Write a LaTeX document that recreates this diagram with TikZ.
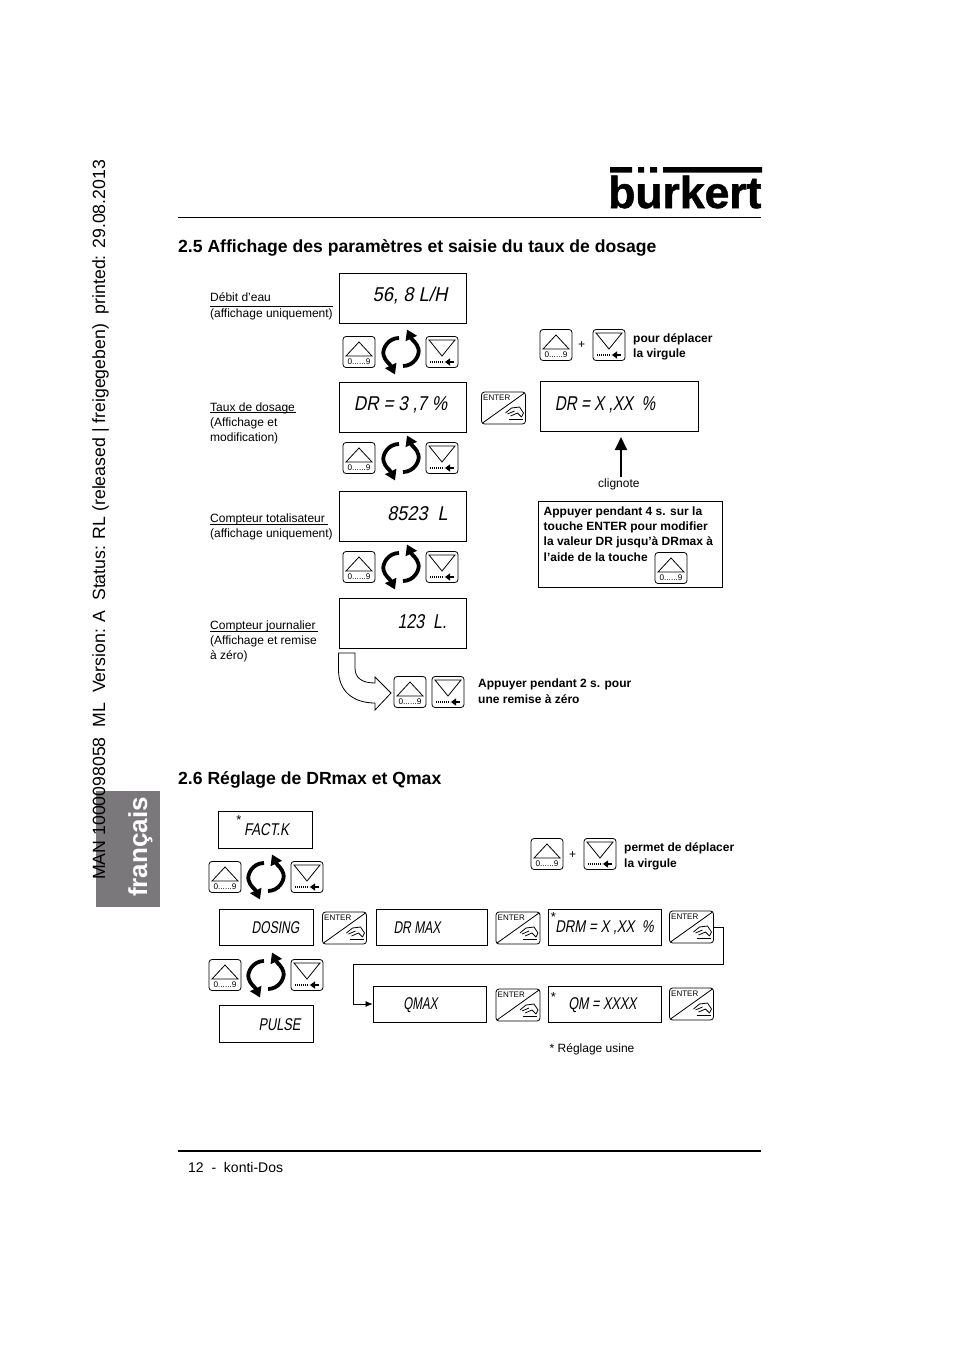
\documentclass[tikz,border=0pt]{standalone}
\usepackage{fontspec}
\setmainfont{Liberation Sans}
\newfontfamily\lcdfont[FakeSlant=0.22]{Liberation Sans}
\newfontfamily\logofont[UprightFont=* Bold,FakeBold=1.2]{Liberation Sans}
\usetikzlibrary{calc,arrows.meta,positioning}
\definecolor{tabgrey}{RGB}{122,120,122}
\newcommand{\fsz}[1]{\fontsize{#1}{#1}\selectfont}
\newcommand{\nrw}[2]{\scalebox{#1}[1]{#2}}

\begin{document}
\begin{tikzpicture}[x=1pt,y=-1pt,line join=miter,
      lcd/.style={draw, line width=0.8pt, inner sep=0pt},
      lcdtxt/.style={font=\lcdfont\fsz{20}, inner sep=0pt},
      lbl/.style={anchor=base west, inner sep=0pt, font=\fsz{12}},
      blbl/.style={anchor=base west, inner sep=0pt, font=\bfseries\fsz{12}},
      head/.style={anchor=base west, inner sep=0pt, font=\bfseries\fsz{17.6}},
      keybox/.style={draw, line width=0.8pt, rounded corners=3pt, minimum width=32pt, minimum height=31pt, inner sep=0pt},
      cyc/.style={line width=3.8pt, -{Triangle[length=10pt,width=12pt]}},
      pics/upkey/.style={code={
        \node[keybox] (-b) at (0,0) {};
        \draw[line width=0.8pt] (0,-10) -- (-13,4) -- (13,4) -- cycle;
        \node[inner sep=0pt, font=\fsz{8.2}] (-t) at (0,10) {0......9};
      }},
      pics/downkey/.style={code={
        \node[keybox] (-b) at (0,0) {};
        \draw[line width=0.8pt] (-13,-12) -- (13,-12) -- (0,4) -- cycle;
        \draw[line width=1.6pt, dash pattern=on 1.2pt off 0.8pt] (-12,10) -- (2,10);
        \draw[line width=2pt, -{Triangle[length=5pt,width=7pt]}] (12,10) -- (3,10);
      }},
      pics/enterkey/.style={code={
        \node[keybox, minimum width=44pt, minimum height=32pt] (-b) at (0,0) {};
        \draw[line width=0.8pt] (-21,15) -- (21,-15);
        \node[anchor=north west, inner sep=0pt, font=\fsz{8}] (-t) at (-20.5,-13) {ENTER};
        \draw[line width=0.8pt] (2,5) -- (8,0) -- (16,-1) -- (20,5) -- (18,9);
        \draw[line width=0.8pt] (4,6) -- (11,3) (7,8) -- (14,5) -- (18,9);
        \draw[line width=0.8pt] (5,11) -- (19,11);
      }},
      pics/cycle/.style={code={
        \draw[cyc] (-2,-14) .. controls (-13,-14) and (-19,-3) .. (-17.5,3) .. controls (-16,9) and (-11,12) .. (-6,22.5);
        \draw[cyc] (2,14) .. controls (13,14) and (19,3) .. (17.5,-3) .. controls (16,-9) and (11,-12) .. (6,-22.5);
      }}]
    \useasboundingbox (0,0) rectangle (954,1354);
    % side tab and vertical line
    \node[fill=tabgrey, minimum width=64pt, minimum height=116pt, inner sep=0pt] (tab) at (128,849) {};
    \node[rotate=90, anchor=base west, inner sep=0pt, font=\fsz{17.7}] (side) at (105,880)
      {MAN 1000098058\ \ ML\ \ Version: A\ \ Status: RL (released | freigegeben)\ \ printed: 29.08.2013};
    \node[rotate=90, anchor=base west, inner sep=0pt, text=white, font=\bfseries\fsz{26}] (lang) at (147,897) {français};
    % logo and rules
    \fill (610,167) rectangle (632,172.5) (638,167) rectangle (644,172.5)
          (650,167) rectangle (657,172.5) (663,167) rectangle (762,172.5);
    \node[anchor=base west, inner sep=0pt, font=\logofont\fsz{44.5}] (logo) at (608,208) {burkert};
    \draw[line width=1.5pt] (178,217.5) -- (761,217.5);
    \draw[line width=1.5pt] (178,1151) -- (761,1151);
    \node[anchor=base west, inner sep=0pt, font=\fsz{14}] (foot) at (188,1172) {12\ \ -\ \ konti-Dos};
    \node[head] (h25) at (178,252) {2.5 Affichage des paramètres et saisie du taux de dosage};
    \node[head] (h26) at (178,784) {2.6 Réglage de DRmax et Qmax};
    % section 2.5: displays
    \foreach \nm/\xa/\ya/\xb/\yb/\tx/\ty/\txt in {
        flow/339/273/466/323/410/296/{\nrw{.92}{56, 8 L/H}},
        dr/339/382/466/432/400.5/405/{\nrw{.86}{DR = 3 ,7 \%}},
        tot/339/491/466/541/417.5/514/{\nrw{.9}{8523\ \ L}},
        day/339/598/466/648/422/622/{\nrw{.8}{123\ \ L.}},
        drx/540/381/698/431/605/405/{\nrw{.76}{DR = X ,XX\ \ \%}}} {
      \node[lcd, minimum width=\xb pt-\xa pt, minimum height=\yb pt-\ya pt] (\nm) at ({(\xa+\xb)/2},{(\ya+\yb)/2}) {};
      \node[lcdtxt] (\nm-t) at (\tx,\ty) {\txt};
    }
    \foreach \nm/\ky in {a/352,b/458,c/567} {
      \pic (up\nm) at (359,\ky) {upkey};
      \pic (cy\nm) at (401,\ky) {cycle};
      \pic (dn\nm) at (442,\ky) {downkey};
    }
    % section 2.5: labels
    \foreach \nm/\lx/\ly/\txt in {
        la/210/301/{Débit d'eau}, lb/210/317/{(affichage uniquement)},
        lc/210/411/{Taux de dosage}, ld/210/426/{(Affichage et}, le/210/441/{modification)},
        lf/210/522/{Compteur totalisateur}, lg/210/537/{(affichage uniquement)},
        lh/210/629/{Compteur journalier}, li/210/644/{(Affichage et remise}, lj/210/659/{à zéro)},
        lk/598/487/{clignote}} {
      \node[lbl] (\nm) at (\lx,\ly) {\txt};
    }
    \draw[line width=0.6pt] (210,306) -- (333,306) (210,412.5) -- (296,412.5) (210,524) -- (328,524) (210,631) -- (318,631);
    \pic (upr) at (556,345) {upkey};
    \node[lbl] (plusa) at (578,348) {+};
    \pic (dnr) at (609,345) {downkey};
    \node[blbl] (ma) at (633,342) {pour déplacer};
    \node[blbl] (mb) at (633,357) {la virgule};
    \pic (enta) at (503.5,408) {enterkey};
    \coordinate (blink) at (621,477);
    \coordinate (blinktip) at (621,437);
    \draw[line width=1.8pt, -{Triangle[length=13pt,width=12pt]}] (blink) -- (blinktip);
    % note box
    \node[lcd, minimum width=184pt, minimum height=86pt] (note) at (630,544) {};
    \foreach \nm/\ly/\txt in {na/515/{Appuyer pendant 4 s. sur la}, nb/530/{touche ENTER pour modifier},
                              nc/545/{la valeur DR jusqu'à DRmax à}, nd/561/{l'aide de la touche}} {
      \node[blbl] (\nm) at (543.5,\ly) {\txt};
    }
    \pic (upn) at (671,568) {upkey};
    % hollow arrow
    \draw[line width=0.8pt] (338.5,653) -- (355,653) -- (355,668) .. controls (355,678) and (362,683) .. (375,683)
      -- (375,677) -- (391,693) -- (375,710) -- (375,703) .. controls (352,703) and (338.5,690) .. (338.5,670) -- cycle;
    \pic (upd) at (410,692) {upkey};
    \pic (dnd) at (448,692) {downkey};
    \node[blbl] (za) at (478,687) {Appuyer pendant 2 s. pour};
    \node[blbl] (zb) at (478,703) {une remise à zéro};
    % section 2.6: displays
    \foreach \nm/\xa/\ya/\xb/\yb/\tx/\ty/\txt in {
        fact/218/811/312/848/266.5/830/{\nrw{.78}{FACT.K}},
        dos/219/909/313/945/275.5/928/{\nrw{.71}{DOSING}},
        drmax/376/909/487/945/417/928/{\nrw{.71}{DR MAX}},
        drm/548/909/661/945/604.5/928/{\nrw{.78}{DRM = X ,XX\ \ \%}},
        puls/219/1005/313/1042/279.5/1025/{\nrw{.75}{PULSE}},
        qmax/373/986/486/1022/420.5/1005/{\nrw{.68}{QMAX}},
        qm/548/986/661/1022/602.5/1005/{\nrw{.74}{QM = XXXX}}} {
      \node[lcd, minimum width=\xb pt-\xa pt, minimum height=\yb pt-\ya pt] (\nm) at ({(\xa+\xb)/2},{(\ya+\yb)/2}) {};
      \node[lcdtxt, font=\lcdfont\fsz{17}] (\nm-t) at (\tx,\ty) {\txt};
    }
    \foreach \nm/\sx/\sy in {sa/239/820, sb/553.5/917.5, sc/553.5/997} {
      \node[inner sep=0pt, font=\fsz{13}] (\nm) at (\sx,\sy) {*};
    }
    \foreach \nm/\ky in {d/877,e/975} {
      \pic (up\nm) at (225,\ky) {upkey};
      \pic (cy\nm) at (266,\ky) {cycle};
      \pic (dn\nm) at (307,\ky) {downkey};
    }
    \pic (entb) at (344.5,928) {enterkey};
    \pic (entc) at (518,928) {enterkey};
    \pic (entd) at (691.5,927) {enterkey};
    \pic (ente) at (518,1005) {enterkey};
    \pic (entf) at (691.5,1004) {enterkey};
    \pic (upq) at (547,854) {upkey};
    \node[lbl] (plusb) at (569,858) {+};
    \pic (dnq) at (600,854) {downkey};
    \node[blbl] (pa) at (624,851) {permet de déplacer};
    \node[blbl] (pb) at (624,867) {la virgule};
    \coordinate (turna) at (723.5,964);
    \draw[line width=0.7pt, -{Latex[length=7pt,width=6pt]}] (entd-b.east) -| (turna) -| (353,1004) -- (qmax.west);
    \node[lbl] (star) at (549.5,1052) {* Réglage usine};
  \end{tikzpicture}
\end{document}
